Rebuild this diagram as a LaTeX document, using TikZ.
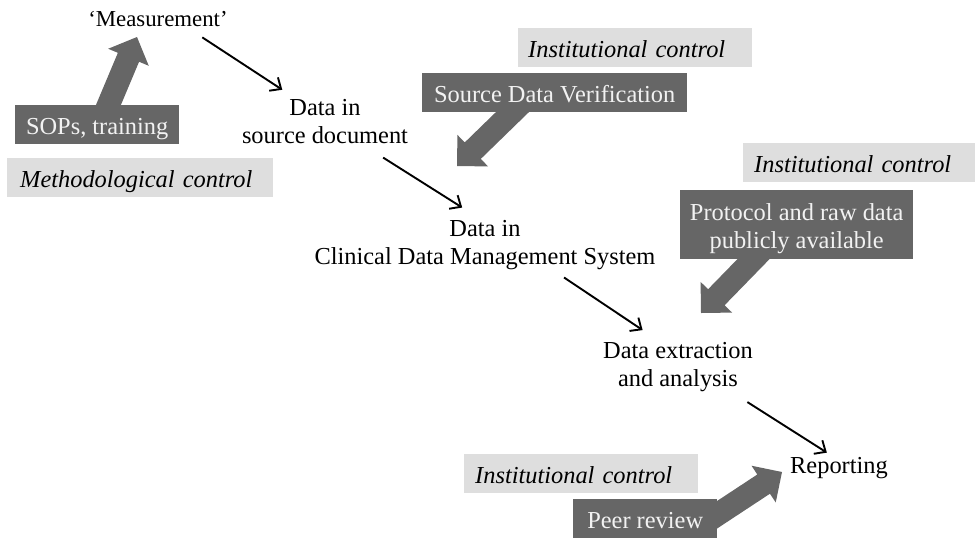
\documentclass[tikz,border=0pt]{standalone}
\usepackage{fontspec}
\setmainfont{Liberation Serif}
\usetikzlibrary{calc,arrows.meta}
\definecolor{darkg}{HTML}{666666}
\definecolor{lightg}{HTML}{DEDEDE}
\definecolor{boxtext}{HTML}{F2F2F2}
\newcommand\fatarrow[2]{%
  \path (#2) coordinate (fa-t) ($(#2)!22pt!(#1)$) coordinate (fa-h);
  \fill[darkg] ($(#1)!11.5pt!-90:(#2)$) -- ($(fa-h)!11.5pt!-90:(fa-t)$)
    -- ($(fa-h)!22pt!-90:(fa-t)$) -- (fa-t) -- ($(fa-h)!22pt!90:(fa-t)$)
    -- ($(fa-h)!11.5pt!90:(fa-t)$) -- ($(#1)!11.5pt!90:(#2)$) -- cycle;}
\tikzset{
  base font/.style={font=\fontsize{24.4}{28}\selectfont},
  txt/.style={base font, inner sep=0pt, align=center},
  darkbox/.style={base font, fill=darkg, text=boxtext, inner xsep=0pt, inner ysep=0pt,
    anchor=north west, align=center},
  lightbox/.style={fill=lightg, text=black, inner ysep=0pt,
    anchor=north west, align=left, text height=29pt, text depth=10pt, font=\fontsize{24.4}{28}\selectfont\itshape},
  flow/.style={line width=1.9pt, -{Straight Barb[length=9pt,width=16pt,line width=1.9pt]}}
}
\begin{document}
\begin{tikzpicture}[x=1pt,y=-1pt]
\useasboundingbox (0,0) rectangle (975,539);
% text nodes
\node[txt, anchor=base, font=\fontsize{22.8}{28}\selectfont] (meas) at (158,26) {‘Measurement’};
\node[txt] (src) at (325,122) {Data in\\source document};
\node[txt] (cdms) at (485,245.5) {Data in\\Clinical Data Management System};
\node[txt] (ext) at (678,367) {Data extraction\\and analysis};
\node[txt, anchor=base] (rep) at (839,473) {Reporting};
% thin connectors
\draw[flow, shorten <=20pt, shorten >=18pt] (meas.-16.5) -- (src.141.8);
\draw[flow, shorten <=24.7pt, shorten >=24.4pt] (src.-31.9) -- (cdms.95.6);
\draw[flow, shorten <=12.7pt, shorten >=21.6pt] (cdms.-20.3) -- (ext.125.8);
\draw[flow, shorten <=18.9pt, shorten >=7.5pt] (ext.-25.7) -- (rep.118.5);
% fat arrows
\coordinate (sopsS) at (100,125); \coordinate (sopsT) at (137,37);
\coordinate (sdvS) at (530,95);   \coordinate (sdvT) at (457,166);
\coordinate (protoS) at (775,237); \coordinate (protoT) at (701,313);
\coordinate (peerS) at (700,526); \coordinate (peerT) at (782,472);
\fatarrow{sopsS}{sopsT}
\fatarrow{sdvS}{sdvT}
\fatarrow{protoS}{protoT}
\fatarrow{peerS}{peerT}
% dark boxes
\node[darkbox, minimum width=164pt, text height=29pt, text depth=10pt] (sops) at (15,105) {SOPs, training};
\node[darkbox, minimum width=265pt, text height=29pt, text depth=10pt] (sdv) at (422,73) {Source Data Verification};
\node[darkbox, minimum width=144pt, text height=29pt, text depth=10pt] (peer) at (573,499) {Peer review};
\node[darkbox, minimum width=233pt, minimum height=69pt] (proto) at (680,190) {\rule{0pt}{25pt}Protocol and raw data\\publicly available};
% light boxes
\node[lightbox, inner xsep=13pt, text width=240pt] (meth) at (7,158) {Methodological control};
\node[lightbox, inner xsep=10pt, text width=214pt] (inst1) at (518,28) {Institutional control};
\node[lightbox, inner xsep=11pt, text width=210pt] (inst2) at (743,143) {Institutional control};
\node[lightbox, inner xsep=11pt, text width=212pt] (inst3) at (464,454) {Institutional control};
\end{tikzpicture}
\end{document}
